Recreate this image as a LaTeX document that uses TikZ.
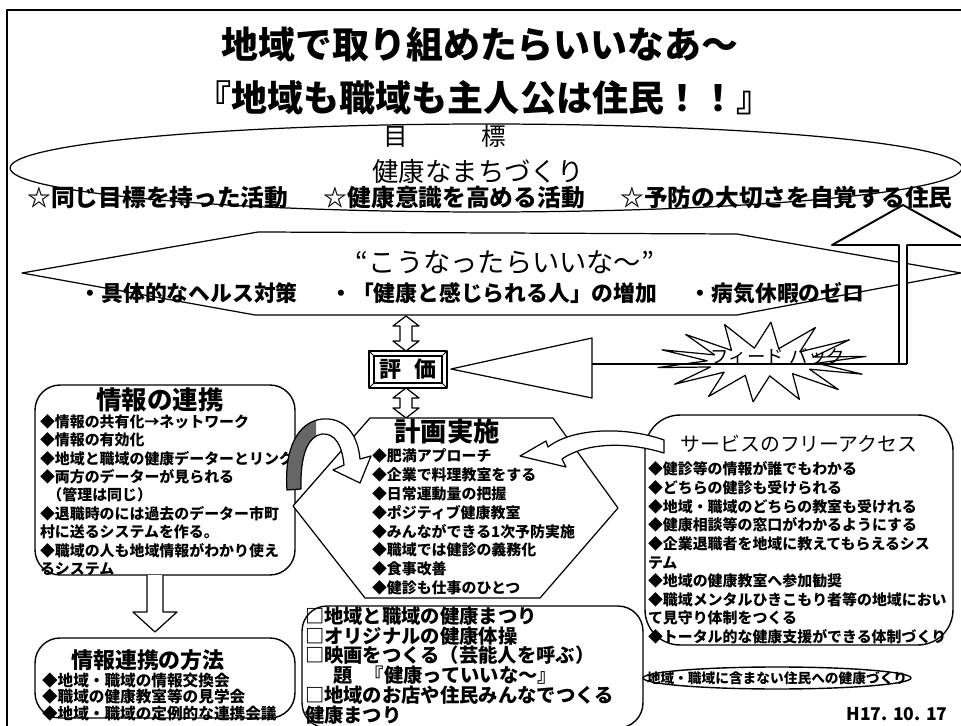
\documentclass[tikz,border=0pt]{standalone}
\usepackage{fontspec}
\setmainfont{Noto Sans CJK JP}
\usetikzlibrary{calc}
\newcommand\myfs[2]{\fontsize{#1}{#2}\selectfont}
\begin{document}
\begin{tikzpicture}[x=0.02cm,y=-0.02cm,line join=round,
  thinline/.style={draw=black,line width=0.7pt},
  hollow/.style={draw=black,fill=white,line width=0.7pt},
  txt/.style={inner sep=0pt,outer sep=0pt},
  items/.style={txt,align=left,anchor=west},
  boxnode/.style={draw=black,fill=white,line width=0.8pt,inner sep=0pt,rounded corners=0.5cm}]
\useasboundingbox (0,0) rectangle (961,726);
\fill[white] (0,0) rectangle (961,726);

% frame
\draw[line width=1.1pt] (7,726) -- (7,10) -- (961,10);

% title
\node[txt,font=\bfseries\myfs{21}{25}] (t1) at (480,45) {地域で取り組めたらいいなあ～};
\node[txt,font=\bfseries\myfs{20.5}{25}] (t2) at (484,98) {『地域も職域も主人公は住民！！』};

% goal ellipse and hope hexagon
\draw[thinline] (486,168) ellipse [x radius=9.52cm, y radius=0.88cm];
\draw[thinline,fill=white] (22,273) -- (258,232) -- (737,234) -- (961,273) -- (737,315) -- (255,315) -- cycle;

% big up arrow (feedback to goal)
\draw[line width=1.1pt,fill=white] (899,364) -- (899,245) -- (832,245) -- (903,205) -- (975,245) -- (907,245) -- (907,364);

\node[txt,font=\myfs{14}{16}] (goal) at (445,136) {目\hspace{3em}標};
\node[txt,font=\myfs{15}{18}] (goal2) at (478,172) {健康なまちづくり};
\node[txt,font=\bfseries\myfs{13.5}{16}] (goal3) at (490,198) {☆同じ目標を持った活動\hspace{1.5em}☆健康意識を高める活動\hspace{1.5em}☆予防の大切さを自覚する住民};

\node[txt,font=\myfs{15.5}{18}] (hope) at (505,262) {“こうなったらいいな～”};
\node[txt,font=\bfseries\myfs{12.4}{15}] (hope2) at (472,293) {・具体的なヘルス対策\hspace{1.5em}・「健康と感じられる人」の増加\hspace{1.5em}・病気休暇のゼロ};

% double arrows
\newcommand\vdarrow[3]{\draw[hollow] (#1,#2) -- ++(13,10) -- ++(-7,0) -- (#1+6,#3-10) -- ++(7,0) -- (#1,#3) -- ++(-13,-10) -- ++(7,0) -- (#1-6,#2+10) -- ++(-7,0) -- cycle;}
\vdarrow{406}{316}{351}
\vdarrow{406}{388}{418}

% evaluation box
\fill[white] (369,351) rectangle (447,388);
\draw[line width=0.9pt] (369,351) rectangle (447,388);
\draw[line width=0.6pt] (374,356) rectangle (442,383);
\draw[line width=0.5pt] (369,351) -- (374,356) (447,351) -- (442,356) (369,388) -- (374,383) (447,388) -- (442,383);
\node[txt,font=\bfseries\myfs{12.5}{15}] (eval) at (408,369.5) {評\hspace{0.6em}価};

% feedback triangle, line, starburst
\draw[hollow] (451,369) -- (592,338) -- (592,398) -- cycle;
\draw[line width=1.4pt] (592,364) -- (907,364);
\draw[thinline] plot[domain=0:360,samples=29] ({762+(80+25*cos(14*\x))*cos(\x+8)},{362-(27+13*cos(14*\x))*sin(\x+8)}) -- cycle;
\node[txt,font=\myfs{10.5}{12}] (fb) at (778,357) {フィード\hspace{0.3em}バック};

% left box
\node[boxnode,minimum width=5.2cm,minimum height=3.8cm] (lbox) at (165,480) {};
\node[txt,font=\bfseries\myfs{14.5}{17}] (ltitle) at (160,400) {情報の連携};
\node[items,font=\bfseries\myfs{8.5}{10.5}] (litems) at (40,495) {◆情報の共有化→ネットワーク\\◆情報の有効化\\◆地域と職域の健康データーとリンク\\◆両方のデーターが見られる\\\hspace{0.5em}（管理は同じ）\\◆退職時のには過去のデーター市町\\村に送るシステムを作る。\\◆職域の人も地域情報がわかり使え\\るシステム};

% down arrow
\draw[hollow] (147,575) -- (147,612) -- (133,612) -- (155,632) -- (177,612) -- (163,612) -- (163,575);

% bottom-left box
\node[boxnode,minimum width=5.2cm,minimum height=1.6cm] (mbox) at (165,678) {};
\node[txt,font=\bfseries\myfs{12.5}{15}] (mtitle) at (148,660) {情報連携の方法};
\node[items,font=\bfseries\myfs{8.9}{9.5}] (mitems) at (42,697) {◆地域・職域の情報交換会\\◆職域の健康教室等の見学会\\◆地域・職域の定例的な連携会議};

% center-bottom box
\node[boxnode,minimum width=6.82cm,minimum height=2.44cm] (cbox) at (472.5,667) {};
\node[items,font=\bfseries\myfs{11}{11.2}] (citems) at (305,665.5) {□地域と職域の健康まつり\\□オリジナルの健康体操\\□映画をつくる（芸能人を呼ぶ）\\\hspace{1.5em}題\hspace{0.6em}『健康っていいな～』\\□地域のお店や住民みんなでつくる\\健康まつり};

% center hexagon
\draw[hollow] (293,506) -- (370,418) -- (553,418) -- (618,508) -- (540,598) -- (365,598) -- cycle;
\node[txt,font=\bfseries\myfs{15}{18}] (ptitle) at (447,432) {計画実施};
\node[items,font=\bfseries\myfs{8.5}{10.7}] (pitems) at (372,522) {◆肥満アプローチ\\◆企業で料理教室をする\\◆日常運動量の把握\\◆ポジティブ健康教室\\◆みんなができる1次予防実施\\◆職域では健診の義務化\\◆食事改善\\◆健診も仕事のひとつ};

% right box
\node[boxnode,rounded corners=0.7cm,minimum width=6.16cm,minimum height=4.6cm] (rbox) at (799,530) {};
\node[txt,font=\myfs{11.3}{13}] (rtitle) at (799,444) {サービスのフリーアクセス};
\node[items,font=\bfseries\myfs{8.5}{10.6}] (ritems) at (648,553) {◆健診等の情報が誰でもわかる\\◆どちらの健診も受けられる\\◆地域・職域のどちらの教室も受けれる\\◆健康相談等の窓口がわかるようにする\\◆企業退職者を地域に教えてもらえるシス\\テム\\◆地域の健康教室へ参加勧奨\\◆職域メンタルひきこもり者等の地域におい\\て見守り体制をつくる\\◆トータル的な健康支援ができる体制づくり};

% small ellipse and date
\draw[line width=0.8pt,fill=white] (777,678) ellipse [x radius=2.68cm, y radius=0.22cm];
\node[txt,font=\bfseries\myfs{7.8}{9}] (eltext) at (777,678) {地域・職域に含まない住民への健康づくり};
\node[txt,font=\bfseries\myfs{10}{12}] (date) at (897,714) {H17. 10. 17};

% left curved arrow
\def\ribbonpath{(287,490) .. controls (284,448) and (298,422) .. (322,419) .. controls (346,417) and (358,436) .. (360,459) -- (371,456) -- (360,483) -- (333,470) -- (344,465) .. controls (342,445) and (335,433) .. (322,434) .. controls (308,436) and (300,455) .. (301,489) -- cycle}
\fill[white] \ribbonpath;
\begin{scope}
\clip (270,400) rectangle (316,500);
\fill[black!60] \ribbonpath;
\end{scope}
\draw[thinline] \ribbonpath;

% right curved arrow
\draw[hollow] (520,456) -- (546,441) -- (548,447) .. controls (572,428) and (625,426) .. (664,440) -- (664,453) .. controls (625,441) and (585,443) .. (562,459) -- (566,467) -- cycle;
\end{tikzpicture}
\end{document}
